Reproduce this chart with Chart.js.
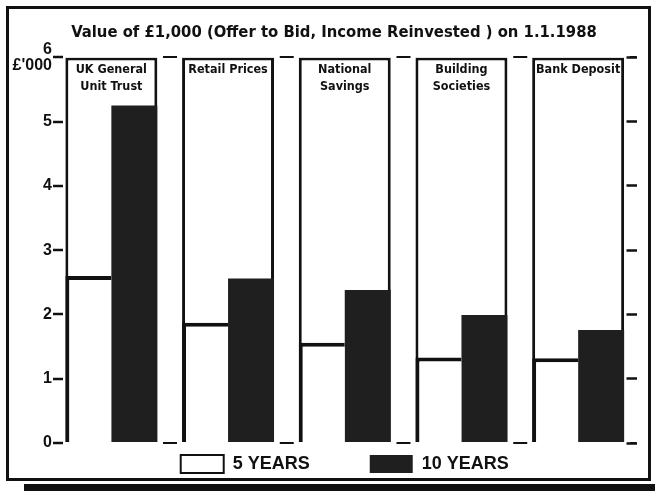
<!DOCTYPE html>
<html>
<head>
<meta charset="utf-8">
<script src="https://cdn.jsdelivr.net/npm/chart.js@4.4.1/dist/chart.umd.min.js"></script>
<style>
html,body{margin:0;padding:0;background:#fff;}
#wrap{width:655px;height:498px;position:relative;}
</style>
</head>
<body>
<div id="wrap"><canvas id="c" width="655" height="498"></canvas></div>
<script>
// ---- data ----
const categories = [
  ['UK General', 'Unit Trust'],
  ['Retail Prices'],
  ['National', 'Savings'],
  ['Building', 'Societies'],
  ['Bank Deposit']
];
const fiveYears = [2.6, 1.87, 1.56, 1.33, 1.32];
const tenYears  = [5.25, 2.56, 2.38, 1.99, 1.76];
const panelTop  = [6, 6, 6, 6, 6];
const yTicks    = [0, 1, 2, 3, 4, 5, 6];
const yUnit     = "£'000";
const seriesNames = ['5 YEARS', '10 YEARS'];
const titleText = 'Value of £1,000 (Offer to Bid, Income Reinvested ) on 1.1.1988';

const INK = '#111111';
const DARK = '#1f1f1f';
const narrow = "'DejaVu Sans Condensed', 'Liberation Sans Narrow', sans-serif";
const sans = "'Liberation Sans', Arial, sans-serif";

// measure widest y label so the mirrored labels can be right-aligned at the axis
const yFont = { family: sans, weight: 'bold', size: 16, lineHeight: 1.0 };
const mctx = document.createElement('canvas').getContext('2d');
mctx.font = 'bold 16px ' + sans;
const yWidest = Math.max(...yTicks.map(v => mctx.measureText(String(v)).width), mctx.measureText(yUnit).width);

const framePlugin = {
  id: 'frame',
  beforeDraw(chart) {
    const ctx = chart.ctx;
    ctx.save();
    ctx.fillStyle = '#ffffff';
    ctx.fillRect(0, 0, chart.width, chart.height);
    ctx.strokeStyle = INK;
    ctx.lineWidth = 3;
    ctx.strokeRect(7.5, 7.5, 642, 472);
    ctx.fillStyle = INK;
    ctx.fillRect(24, 484, 631, 7);
    ctx.restore();
  }
};

const setTicks = s => { s.ticks = yTicks.map(v => ({ value: v })); };

new Chart(document.getElementById('c'), {
  type: 'bar',
  data: {
    labels: categories,
    datasets: [
      {
        label: seriesNames[0],
        data: fiveYears,
        xAxisID: 'x', yAxisID: 'y',
        backgroundColor: '#ffffff',
        borderColor: INK,
        borderWidth: { top: 4, left: 4, right: 0, bottom: 0 },
        borderSkipped: false,
        categoryPercentage: 0.788,
        barPercentage: 1
      },
      {
        label: seriesNames[1],
        data: tenYears,
        xAxisID: 'x', yAxisID: 'y',
        backgroundColor: DARK,
        borderColor: DARK,
        borderWidth: 0,
        categoryPercentage: 0.788,
        barPercentage: 1
      },
      {
        label: 'panel',
        data: panelTop,
        xAxisID: 'x', yAxisID: 'y',
        grouped: false,
        backgroundColor: '#ffffff',
        borderColor: INK,
        borderWidth: { top: 3, left: 3, right: 3, bottom: 0 },
        borderSkipped: false,
        categoryPercentage: 0.788,
        barPercentage: 1
      }
    ]
  },
  options: {
    responsive: false,
    animation: false,
    devicePixelRatio: 1,
    layout: { padding: { top: 10, left: 31.5, right: 18.5, bottom: 15 } },
    plugins: {
      tooltip: { enabled: false },
      title: {
        display: true,
        text: titleText,
        color: INK,
        font: { family: narrow, weight: 'bold', size: 16.5 },
        padding: { top: 13, bottom: 0 }
      },
      legend: {
        position: 'bottom',
        fullSize: false,
        title: { display: true, text: '', font: { size: 12, lineHeight: 1.2 }, padding: { top: -62.4, bottom: 0 } },
        labels: {
          filter: item => item.datasetIndex < 2,
          boxWidth: 43,
          boxHeight: 18,
          padding: 60,
          color: INK,
          font: { family: sans, weight: 'bold', size: 18 }
        }
      }
    },
    scales: {
      x: {
        type: 'category',
        position: 'top',
        offset: true,
        grid: { display: false, drawTicks: false, tickLength: 0, offset: true },
        border: { display: false },
        afterFit: s => { s.height = 14.6; },
        ticks: {
          z: 1,
          mirror: true,
          autoSkip: false,
          maxRotation: 0,
          minRotation: 0,
          padding: -13.3,
          crossAlign: 'far',
          color: INK,
          font: { family: narrow, weight: 'bold', size: 12.5, lineHeight: 1.35 }
        }
      },
      y: {
        position: 'left',
        min: 0, max: 6,
        afterBuildTicks: setTicks,
        afterFit: s => { s.width = 21.5; },
        grid: {
          color: c => (c.tick && (c.tick.value === 0 || c.tick.value === 6)) ? INK : 'rgba(0,0,0,0)',
          lineWidth: 2,
          drawTicks: true,
          tickLength: -10,
          tickColor: INK,
          tickWidth: 2.5
        },
        border: { display: false, dash: [14, 102.75], dashOffset: 6.75 },
        ticks: {
          mirror: true,
          crossAlign: 'far',
          padding: -1 - yWidest,
          color: INK,
          font: yFont,
          callback: v => v === 6 ? [String(v), yUnit] : String(v)
        }
      },
      y2: {
        position: 'right',
        min: 0, max: 6,
        afterBuildTicks: setTicks,
        afterFit: s => { s.width = 0; },
        grid: {
          drawOnChartArea: false,
          drawTicks: true,
          tickLength: -10,
          tickColor: INK,
          tickWidth: 2.5
        },
        border: { display: false },
        ticks: { display: false }
      }
    }
  },
  plugins: [framePlugin]
});
</script>
</body>
</html>
